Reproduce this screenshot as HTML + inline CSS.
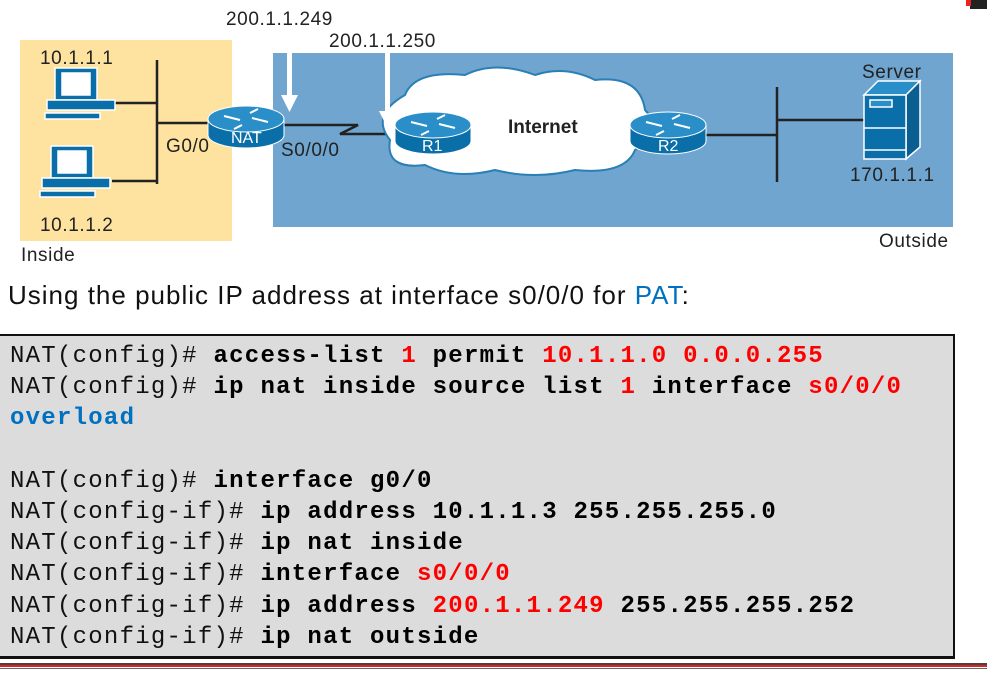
<!DOCTYPE html>
<html><head><meta charset="utf-8"><style>
body{margin:0;width:987px;height:676px;background:#fff;position:relative;overflow:hidden;font-family:"Liberation Sans",sans-serif}
.code{position:absolute;left:0;top:334px;width:955px;height:325px;background:#dcdcdc;border:2px solid #111;border-left:none;box-sizing:border-box;border-bottom:3px solid #111}
.code pre{margin:0;position:absolute;left:10px;top:5px;font-family:"Liberation Mono",monospace;font-size:24px;letter-spacing:1.25px;line-height:31.2px;color:#222}
b{color:#000}.r{color:#f00;font-weight:bold}.bl{color:#0070c0;font-weight:bold}.n{color:#111}
svg text.l{font-size:19px;letter-spacing:0.6px;fill:#222}
</style></head><body>
<svg width="987" height="270" style="position:absolute;left:0;top:0" font-family="Liberation Sans, sans-serif">
<rect x="970" y="0" width="17" height="9" fill="#222"/><rect x="966" y="0" width="5" height="6" fill="#e22"/>
<rect x="20" y="40" width="212" height="201" fill="#fde39f"/>
<rect x="273" y="53" width="680" height="174" fill="#6fa5cf"/>
<text class="l" x="226" y="25">200.1.1.249</text>
<text class="l" x="329" y="47">200.1.1.250</text>
<text class="l" x="40" y="64">10.1.1.1</text>
<text class="l" x="40" y="231">10.1.1.2</text>
<text class="l" x="21" y="261">Inside</text>
<text class="l" x="879" y="247">Outside</text>
<text class="l" x="862" y="78">Server</text>
<text class="l" x="850" y="181">170.1.1.1</text>
<text class="l" x="166" y="152">G0/0</text>
<text class="l" x="281" y="156">S0/0/0</text>
<g stroke="#222" stroke-width="2.5" fill="none">
<line x1="157" y1="60" x2="157" y2="184"/><line x1="115" y1="103" x2="157" y2="103"/><line x1="112" y1="181" x2="157" y2="181"/><line x1="157" y1="123" x2="212" y2="123"/>
<polyline points="282,125 358,125 340,134 393,134"/>
<line x1="705" y1="135" x2="777" y2="135"/><line x1="777" y1="87" x2="777" y2="182"/><line x1="777" y1="120" x2="864" y2="120"/>
</g>
<path d="M405,95 q10,-25 60,-20 q30,-15 70,0 q30,-10 60,5 q45,-5 50,30 q20,20 -10,40 q-10,25 -60,20 q-40,10 -80,0 q-40,10 -70,-5 q-40,5 -35,-25 q-20,-25 15,-45z" fill="#fff" stroke="#2a7fb5" stroke-width="2"/>
<text x="508" y="133" font-size="19" font-weight="bold" fill="#222">Internet</text>
<g fill="#fff"><rect x="287" y="53" width="5" height="44"/><polygon points="281,95 298,95 289.5,112"/><rect x="385" y="53" width="5" height="60"/><polygon points="379,111 396,111 387.5,128"/></g>
<defs><g id="rt"><path d="M-38,0 v16 a38,13 0 0 0 76,0 v-16z" fill="#0a6ea8" stroke="#fff" stroke-width="1"/><ellipse cx="0" cy="0" rx="38" ry="13" fill="#2a8fc8" stroke="#fff" stroke-width="1"/><g stroke="#fff" stroke-width="2"><line x1="-22" y1="-3" x2="-6" y2="1"/><line x1="22" y1="3" x2="6" y2="-1"/><line x1="-4" y1="6" x2="-12" y2="10"/><line x1="4" y1="-6" x2="12" y2="-10"/></g></g></defs>
<use href="#rt" x="246" y="119"/><use href="#rt" x="433" y="125"/><use href="#rt" x="668" y="125"/>
<text x="231" y="143" font-size="16" fill="#fff">NAT</text><text x="422" y="151" font-size="16" fill="#fff">R1</text><text x="658" y="151" font-size="16" fill="#fff">R2</text>
<g fill="#0a6ea8" stroke="#fff" stroke-width="1.5">
<rect x="55" y="68" width="42" height="32"/><rect x="62" y="73" width="28" height="22" fill="#fff"/><path d="M47,100 h68 v10 h-68z"/><path d="M45,113 h55 v6 h-55z"/>
<rect x="51" y="146" width="42" height="32"/><rect x="58" y="151" width="28" height="22" fill="#fff"/><path d="M42,178 h68 v10 h-68z"/><path d="M40,191 h55 v6 h-55z"/>
<path d="M864,95 l14,-14 h42 l-14,14z" fill="#2a8fc8"/><path d="M906,95 l14,-14 v66 l-14,12z" fill="#0a5e90"/><rect x="864" y="95" width="42" height="64"/><rect x="870" y="100" width="22" height="7" fill="#2a8fc8"/><line x1="864" y1="128" x2="906" y2="128"/><line x1="864" y1="150" x2="906" y2="150"/>
</g>
</svg>
<div style="position:absolute;left:8px;top:280px;font-size:26px;letter-spacing:1px;color:#111;font-family:'Liberation Sans',sans-serif;white-space:nowrap">Using the public IP address at interface s0/0/0 for <span style="color:#0070c0">PAT</span>:</div>
<div class="code"><pre><span class="n">NAT(config)#</span> <b>access-list</b> <span class="r">1</span> <b>permit</b> <span class="r">10.1.1.0 0.0.0.255</span>
<span class="n">NAT(config)#</span> <b>ip nat inside source list</b> <span class="r">1</span> <b>interface</b> <span class="r">s0/0/0</span>
<span class="bl">overload</span>

<span class="n">NAT(config)#</span> <b>interface g0/0</b>
<span class="n">NAT(config-if)#</span> <b>ip address 10.1.1.3 255.255.255.0</b>
<span class="n">NAT(config-if)#</span> <b>ip nat inside</b>
<span class="n">NAT(config-if)#</span> <b>interface</b> <span class="r">s0/0/0</span>
<span class="n">NAT(config-if)#</span> <b>ip address</b> <span class="r">200.1.1.249</span> <b>255.255.255.252</b>
<span class="n">NAT(config-if)#</span> <b>ip nat outside</b></pre></div>
<div style="position:absolute;left:0;top:663px;width:987px;height:2px;background:#444"></div>
<div style="position:absolute;left:0;top:665px;width:987px;height:2px;background:#d22"></div>
<div style="position:absolute;left:0;top:668px;width:987px;height:1px;background:#666"></div>
</body></html>
